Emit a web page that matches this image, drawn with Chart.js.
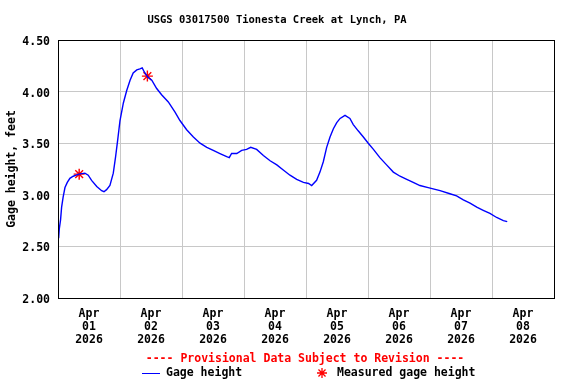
<!DOCTYPE html>
<html>
<head>
<meta charset="utf-8">
<script src="https://cdn.jsdelivr.net/npm/chart.js@4"></script>
<style>
  html, body { margin: 0; padding: 0; background: #fff; }
  #wrap { width: 576px; height: 384px; }
</style>
</head>
<body>
<div id="wrap"><canvas id="gageChart"></canvas></div>
<script>
// hours since Apr 01 2026 00:00, gage height in feet
const hours = [0.25, 0.5, 1.0, 1.4, 2.0, 2.7, 3.6, 4.6, 5.9, 8.1, 10.4, 11.7, 13.0, 15.0, 16.9, 17.8,
    18.8, 20.1, 21.4, 22.3, 23.1, 24.0, 25.3, 26.6, 27.9, 29.1, 30.5, 31.7, 32.6, 33.4, 34.8, 36.3,
    38.2, 40.1, 42.7, 45.3, 47.2, 49.8, 52.4, 55.0, 57.6, 60.1, 62.7, 65.3, 66.3, 67.2, 69.2, 71.1,
    73.0, 74.6, 76.9, 79.5, 82.1, 84.7, 87.2, 89.8, 92.4, 95.0, 97.0, 98.2, 100.1, 101.4, 102.7, 104.0,
    105.3, 106.6, 107.9, 109.2, 111.1, 113.0, 114.3, 116.2, 118.2, 120.1, 122.1, 124.6, 127.2, 129.8,
    132.4, 135.0, 137.5, 140.1, 143.3, 147.9, 151.7, 154.3, 156.9, 159.5, 162.1, 164.6, 167.2, 169.8,
    172.4, 173.9];
const gageHeight = [2.58, 2.67, 2.76, 2.88, 2.98, 3.07, 3.12, 3.16, 3.18, 3.20, 3.21, 3.19, 3.14, 3.08, 3.04, 3.03,
    3.05, 3.09, 3.21, 3.37, 3.53, 3.72, 3.89, 4.01, 4.11, 4.18, 4.21, 4.22, 4.23, 4.19, 4.14, 4.11,
    4.03, 3.97, 3.90, 3.80, 3.72, 3.63, 3.56, 3.50, 3.46, 3.43, 3.40, 3.37, 3.36, 3.40, 3.40, 3.43,
    3.44, 3.46, 3.44, 3.38, 3.33, 3.29, 3.24, 3.19, 3.15, 3.12, 3.11, 3.09, 3.14, 3.22, 3.32, 3.46,
    3.56, 3.64, 3.70, 3.74, 3.77, 3.74, 3.68, 3.62, 3.56, 3.50, 3.44, 3.36, 3.29, 3.22,
    3.18, 3.15, 3.12, 3.09, 3.07, 3.04, 3.01, 2.99, 2.95, 2.92, 2.88, 2.85, 2.82, 2.78,
    2.75, 2.74];

const measuredHours = [8.2, 34.6];
const measuredHeight = [3.20, 4.15];

const dayLabels = ['01', '02', '03', '04', '05', '06', '07', '08'];
const yTicks = [2.0, 2.5, 3.0, 3.5, 4.0, 4.5];

const monoFont = 'DejaVu Sans Mono';
const gridGray = '#c8c8c8';

const drawStar = (ctx, x, y, r) => {
    ctx.beginPath();
    for (let i = 0; i < 4; i++) {
        const a = i * Math.PI / 4;
        ctx.moveTo(x - r * Math.cos(a), y - r * Math.sin(a));
        ctx.lineTo(x + r * Math.cos(a), y + r * Math.sin(a));
    }
    ctx.stroke();
};

// frame around the plot + the footer legend
const framePlugin = {
    id: 'frame',
    afterDraw(chart) {
        const { ctx, chartArea: a } = chart;
        ctx.save();
        ctx.strokeStyle = '#000';
        ctx.lineWidth = 1;
        ctx.strokeRect(Math.round(a.left) + 0.5, Math.round(a.top) + 0.5,
            Math.round(a.right - a.left), Math.round(a.bottom - a.top));

        ctx.font = `bold 11.5px "${monoFont}"`;
        ctx.textBaseline = 'middle';
        ctx.textAlign = 'center';
        ctx.fillStyle = '#ff0000';
        ctx.fillText('---- Provisional Data Subject to Revision ----', 305, 359);

        ctx.strokeStyle = '#0000ff';
        ctx.beginPath();
        ctx.moveTo(142, 373.5);
        ctx.lineTo(160, 373.5);
        ctx.stroke();
        ctx.textAlign = 'left';
        ctx.fillStyle = '#000';
        ctx.fillText('Gage height', 166, 373);

        ctx.strokeStyle = '#ff0000';
        ctx.lineWidth = 1.3;
        drawStar(ctx, 322, 373, 5);
        ctx.fillText('Measured gage height', 337, 373);
        ctx.restore();
    }
};

new Chart(document.getElementById('gageChart').getContext('2d'), {
    type: 'scatter',
    data: {
        datasets: [
            {
                label: 'Gage height',
                data: hours.map((h, i) => ({ x: h, y: gageHeight[i] })),
                showLine: true,
                borderColor: '#0000ff',
                borderWidth: 1.4,
                pointRadius: 0,
                tension: 0
            },
            {
                label: 'Measured gage height',
                data: measuredHours.map((h, i) => ({ x: h, y: measuredHeight[i] })),
                pointStyle: 'star',
                pointRadius: 5.5,
                borderColor: '#ff0000',
                backgroundColor: '#ff0000',
                borderWidth: 1.4
            }
        ]
    },
    options: {
        responsive: true,
        maintainAspectRatio: false,
        animation: false,
        layout: { padding: { top: 0, right: 22, bottom: 0, left: 0 } },
        scales: {
            x: {
                type: 'linear',
                min: 0,
                max: 192,
                afterFit: (scale) => { scale.height = 86; },
                afterBuildTicks: (scale) => {
                    const t = [];
                    for (let v = 0; v <= 192; v += 12) t.push({ value: v });
                    scale.ticks = t;
                },
                grid: {
                    drawTicks: false,
                    color: (c) => (c.tick && c.tick.value % 24 === 0) ? gridGray : 'rgba(0,0,0,0)'
                },
                border: { color: '#000', width: 1 },
                ticks: {
                    autoSkip: false,
                    maxRotation: 0,
                    padding: 9,
                    color: '#000',
                    font: { family: monoFont, size: 11.5, weight: 'bold', lineHeight: 1.15 },
                    callback: (v) => (v % 24 === 12) ? ['Apr', dayLabels[Math.floor(v / 24)], '2026'] : ''
                }
            },
            y: {
                min: 2.0,
                max: 4.5,
                afterFit: (scale) => { scale.width = 58; },
                afterBuildTicks: (scale) => { scale.ticks = yTicks.map(v => ({ value: v })); },
                grid: { drawTicks: false, color: gridGray },
                border: { color: '#000', width: 1 },
                ticks: {
                    padding: 8,
                    labelOffset: 2,
                    color: '#000',
                    font: { family: monoFont, size: 11.5, weight: 'bold' },
                    callback: (v) => v.toFixed(2)
                },
                title: {
                    display: true,
                    text: 'Gage height, feet',
                    color: '#000',
                    padding: { top: 5, bottom: 0 },
                    font: { family: monoFont, size: 11.5, weight: 'bold', lineHeight: 1.2 }
                }
            }
        },
        plugins: {
            legend: { display: false },
            tooltip: { enabled: false },
            title: {
                display: true,
                text: 'USGS 03017500 Tionesta Creek at Lynch, PA',
                color: '#000',
                padding: { top: 14, bottom: 13.4 },
                font: { family: monoFont, size: 10.5, weight: 'bold', lineHeight: 1.2 }
            }
        }
    },
    plugins: [framePlugin]
});
</script>
</body>
</html>
